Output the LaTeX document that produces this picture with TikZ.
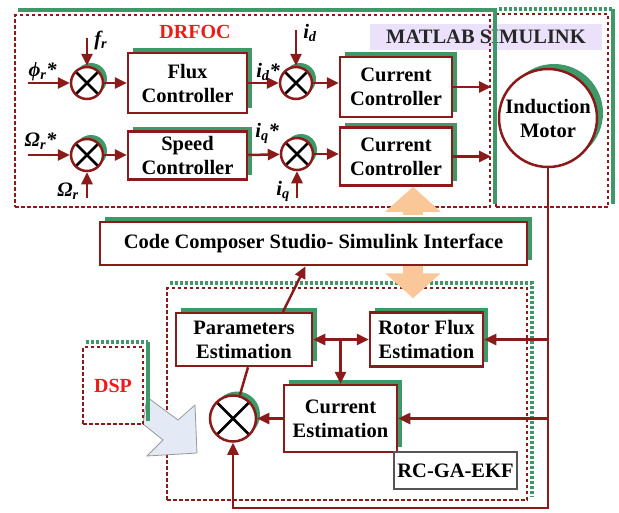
\documentclass[tikz,border=0pt]{standalone}
\usepackage{fontspec}
\setmainfont{Liberation Serif}
\usetikzlibrary{arrows.meta, positioning, calc, shadows}
\definecolor{redstroke}   {HTML}{8B1A1A}
\definecolor{shadowgreen} {HTML}{3D9A68}
\definecolor{labelred}    {HTML}{F01818}
\definecolor{peachfill}   {HTML}{FAC898}
\definecolor{lavenderfill}{HTML}{EBE1FA}
\definecolor{dspfill}     {HTML}{E3E9F5}
\definecolor{graystroke}  {HTML}{555555}
\tikzset{
  blk/.style={rectangle, draw=redstroke, line width=2.5pt, fill=white,
    align=center, inner sep=1pt, font=\fontsize{20.5}{24}\selectfont\bfseries,
    general shadow={fill=shadowgreen, shadow xshift=5pt, shadow yshift=5pt}},
  sumnode/.style={circle, draw=redstroke, line width=2.5pt, fill=white,
    minimum size=32pt, inner sep=0pt,
    general shadow={fill=shadowgreen, shadow xshift=4pt, shadow yshift=4pt},
    path picture={\draw[black, line width=2.5pt]
      (path picture bounding box.north west) -- (path picture bounding box.south east)
      (path picture bounding box.south west) -- (path picture bounding box.north east);}},
  frame/.style={rectangle, draw=redstroke, line width=2.3pt, dash pattern=on 3.5pt off 2.5pt},
  greenedge/.style={draw=shadowgreen, line width=3.5pt},
  greendash/.style={draw=shadowgreen, line width=3.5pt, dash pattern=on 3.5pt off 1.5pt},
  arr/.style={-{Triangle[length=12pt,width=11pt]}, line width=2.5pt, draw=redstroke},
  link/.style={line width=2.5pt, draw=redstroke},
  bigarr/.style={-{Triangle[length=25pt,width=54pt]}, line width=20pt, draw=peachfill},
  sig/.style={font=\fontsize{20.5}{24}\selectfont\bfseries\itshape, inner sep=1pt},
  tag/.style={font=\fontsize{20}{24}\selectfont\bfseries, text=labelred}
}

\begin{document}
\begin{tikzpicture}[x=1pt, y=-1pt]
  \useasboundingbox (0,0) rectangle (619,512);

  \node[fill=lavenderfill, minimum width=232pt, minimum height=26pt, inner sep=0pt,
        font=\fontsize{20.5}{24}\selectfont\bfseries, text=black!85] (simlabel)
    at (486,37) {MATLAB SIMULINK};

  %% FRAMES
  \node[frame, minimum width=475pt, minimum height=192pt] (drfocbox) at (252.5,111) {};
  \node[frame, minimum width=112pt, minimum height=193pt] (motorbox) at (552,110.5) {};
  \node[frame, minimum width=360pt, minimum height=212pt] (ekfbox) at (347,394) {};

  \draw[greenedge] ([shift={(4pt,4pt)}]drfocbox.north west)
    -- ([shift={(4pt,4pt)}]drfocbox.north east) -- ([shift={(4pt,4pt)}]drfocbox.south east);
  \draw[greendash] ([shift={(4pt,4pt)}]motorbox.north west) -- ([shift={(4pt,4pt)}]motorbox.north east);
  \draw[greenedge] ([shift={(4pt,4pt)}]motorbox.north east) -- ([shift={(4pt,4pt)}]motorbox.south east);
  \draw[greendash] ([shift={(4pt,4pt)}]ekfbox.north west)
    -- ([shift={(4pt,4pt)}]ekfbox.north east) -- ([shift={(4pt,4pt)}]ekfbox.south east);

  \node[tag] (drfoclabel) at (195,32) {DRFOC};

  %% DRFOC
  \node[sumnode] (sum1) at (87,83) {};
  \node[blk, minimum width=119pt, minimum height=60pt] (flux) at (187.5,83) {Flux\\Controller};
  \node[sumnode] (sum2) at (296,83) {};
  \node[blk, minimum width=112pt, minimum height=60pt] (cc1) at (396,87) {Current\\Controller};

  \node[sumnode] (sum3) at (87,155) {};
  \node[blk, minimum width=119pt, minimum height=48pt] (speed) at (187.5,155.5) {Speed\\Controller};
  \node[sumnode] (sum4) at (297,154) {};
  \node[blk, minimum width=112pt, minimum height=58pt] (cc2) at (396,156.5) {Current\\Controller};

  \coordinate (phiin) at (28,83);
  \coordinate (frin) at (87,38);
  \coordinate (idin) at (296,30);
  \coordinate (omin) at (28,155);
  \coordinate (omfb) at (87,198);
  \coordinate (iqin) at (297,198);

  \draw[arr] (phiin) -- node[sig, above, pos=0.35] {ϕ\textsubscript{r}*} (sum1);
  \draw[arr] (frin) node[sig, right=5pt, yshift=-2pt] {f\textsubscript{r}} -- (sum1);
  \draw[arr] (sum1) -- (flux);
  \draw[arr] (flux) -- node[sig, above, pos=0.65] {i\textsubscript{d}*} (sum2);
  \draw[arr] (idin) node[sig, right=5pt, yshift=-3pt] {i\textsubscript{d}} -- (sum2);
  \draw[arr] (sum2.east) -- (sum2.east -| cc1.west);
  \draw[arr] (cc1.east) -- (cc1.east -| drfocbox.east);

  \draw[arr] (omin) -- node[sig, above=3pt, pos=0.3] {Ω\textsubscript{r}*} (sum3);
  \draw[arr] (omfb) node[sig, left=6pt, yshift=7pt] {Ω\textsubscript{r}} -- (sum3);
  \draw[arr] (sum3) -- (sum3 -| speed.west);
  \draw[arr] (sum3 -| speed.east) -- node[sig, above=9pt, pos=0.6] {i\textsubscript{q}*} (sum4);
  \draw[arr] (iqin) node[sig, left=5pt, yshift=7pt] {i\textsubscript{q}} -- (sum4);
  \draw[arr] (sum4.east) -- (sum4.east -| cc2.west);
  \draw[arr] (cc2.east) -- (cc2.east -| drfocbox.east);

  %% MOTOR
  \node[circle, draw=redstroke, line width=2.5pt, fill=white, minimum size=98pt, inner sep=0pt,
        align=center, font=\fontsize{20.5}{24}\selectfont\bfseries,
        general shadow={fill=shadowgreen, shadow xshift=6pt, shadow yshift=5pt}] (motor)
    at (548,118) {Induction\\Motor};

  %% INTERFACE
  \node[blk, minimum width=427pt, minimum height=43pt] (ccs) at (313.5,243.5)
    {Code Composer Studio- Simulink Interface};
  \draw[bigarr] ([xshift=99.5pt, yshift=6pt]ccs.north) -- ([xshift=17pt]cc2.south);
  \draw[bigarr] ([xshift=99.5pt]ccs.south) -- ++(0,32);

  %% EKF
  \node[blk, minimum width=136pt, minimum height=53pt] (params) at (244,339.5) {Parameters\\Estimation};
  \node[blk, minimum width=113pt, minimum height=54pt] (rotor) at (426.5,339.5) {Rotor Flux\\Estimation};
  \node[blk, minimum width=113pt, minimum height=67pt] (curest) at (340.5,418.5) {Current\\Estimation};
  \node[sumnode, minimum size=46pt] (sum5) at (233,418.5) {};
  \node[rectangle, draw=graystroke, line width=2.5pt, minimum width=123pt, minimum height=37pt,
        font=\fontsize{20.5}{24}\selectfont\bfseries] (rcga) at (455.5,470.5) {RC-GA-EKF};

  \coordinate (jn) at (curest.north |- rotor.west);
  \coordinate (fbcorner) at (548,508);

  \draw[arr] (jn) -- (params.east);
  \draw[arr] (jn) -- (rotor.west);
  \draw[arr] (jn) -- (curest.north);
  \draw[arr] (curest.west) -- (sum5.east);
  \draw[link] (sum5) -- ([xshift=4pt]params.south);
  \draw[arr] ([xshift=39pt]params.north) -- ([xshift=-8pt]ccs.south);

  \draw[arr] (motor.south) -- (fbcorner) -| (sum5.south);
  \draw[arr] (motor.south |- rotor.east) -- (rotor.east);
  \draw[arr] (motor.south |- curest.east) -- (curest.east);

  %% DSP
  \draw[draw=graystroke!60, fill=dspfill, line width=0.8pt]
    (147,397) -- (178,420) -- (195,405) -- (197,453) -- (147,456) -- (163,440) -- (143,424) -- cycle;
  \node[frame, minimum width=60pt, minimum height=77pt] (dspbox) at (113,385.5) {};
  \draw[greendash] ([shift={(4pt,4pt)}]dspbox.north west) -- ([shift={(4pt,4pt)}]dspbox.north east);
  \draw[greenedge] ([shift={(4pt,4pt)}]dspbox.north east) -- ([shift={(4pt,4pt)}]dspbox.south east);
  \node[tag] (dsplabel) at (dspbox) {DSP};

\end{tikzpicture}
\end{document}
